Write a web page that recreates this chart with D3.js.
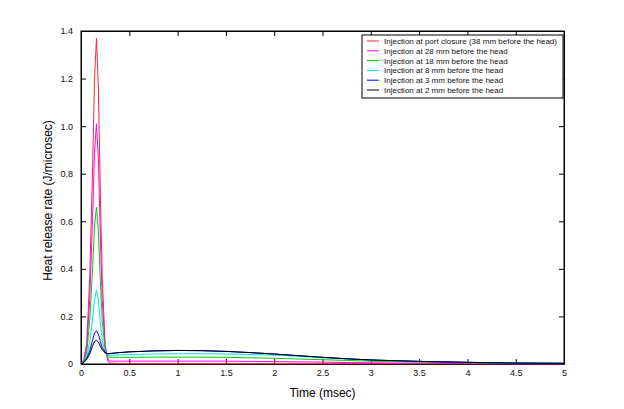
<!DOCTYPE html>
<html><head><meta charset="utf-8">
<script src="https://cdn.jsdelivr.net/npm/d3@7"></script>
<style>body{margin:0;background:#fff}svg{display:block}</style>
</head><body>
<script>
const time = [0, 0.03, 0.06, 0.09, 0.12, 0.14, 0.16, 0.18, 0.2, 0.22, 0.25, 0.28, 0.3, 0.4, 0.5, 0.75, 1, 1.25, 1.5, 1.75, 2, 2.25, 2.5, 2.75, 3, 3.5, 4, 4.5, 5];
const red     = [0, 0.02, 0.09, 0.36, 0.82, 1.2, 1.37, 1.16, 0.72, 0.36, 0.08, 0.01, 0.004, 0.002, 0.001, 0.001, 0.001, 0.001, 0.001, 0.001, 0.001, 0.001, 0.001, 0.001, 0.001, 0.001, 0.001, 0.001, 0.001];
const magenta = [0, 0.015, 0.07, 0.27, 0.61, 0.89, 1.01, 0.86, 0.54, 0.27, 0.07, 0.018, 0.012, 0.012, 0.012, 0.012, 0.012, 0.012, 0.012, 0.011, 0.01, 0.009, 0.008, 0.006, 0.005, 0.003, 0.002, 0.001, 0.001];
const green   = [0, 0.01, 0.05, 0.18, 0.4, 0.58, 0.66, 0.56, 0.35, 0.18, 0.06, 0.03, 0.028, 0.028, 0.028, 0.029, 0.029, 0.029, 0.028, 0.026, 0.024, 0.021, 0.018, 0.015, 0.012, 0.008, 0.005, 0.003, 0.002];
const cyan    = [0, 0.01, 0.03, 0.09, 0.19, 0.27, 0.31, 0.27, 0.17, 0.1, 0.05, 0.038, 0.036, 0.038, 0.04, 0.042, 0.043, 0.043, 0.042, 0.04, 0.037, 0.032, 0.026, 0.021, 0.016, 0.011, 0.007, 0.004, 0.003];
const blue    = [0, 0.008, 0.025, 0.055, 0.1, 0.13, 0.14, 0.125, 0.095, 0.07, 0.048, 0.043, 0.044, 0.048, 0.051, 0.055, 0.057, 0.056, 0.053, 0.048, 0.042, 0.035, 0.028, 0.022, 0.017, 0.011, 0.007, 0.004, 0.003];
const black   = [0, 0.006, 0.02, 0.042, 0.075, 0.095, 0.10, 0.092, 0.075, 0.06, 0.046, 0.043, 0.044, 0.048, 0.051, 0.055, 0.057, 0.056, 0.053, 0.048, 0.042, 0.035, 0.028, 0.022, 0.017, 0.011, 0.007, 0.004, 0.003];
const seriesNames = ["Injection at port closure (38 mm before the head)", "Injection at 28 mm before the head", "Injection at 18 mm before the head", "Injection at 8 mm before the head", "Injection at 3 mm before the head", "Injection at 2 mm before the head"];
const seriesColors = ["#ff2040", "#ff00ff", "#00cc00", "#00e5e5", "#0000ff", "#000000"];
const xTicks = [0, 0.5, 1, 1.5, 2, 2.5, 3, 3.5, 4, 4.5, 5];
const xTickLabels = ["0", "0.5", "1", "1.5", "2", "2.5", "3", "3.5", "4", "4.5", "5"];
const yTicks = [0, 0.2, 0.4, 0.6, 0.8, 1.0, 1.2, 1.4];
const yTickLabels = ["0", "0.2", "0.4", "0.6", "0.8", "1.0", "1.2", "1.4"];

const W = 624, H = 409;
const m = {l: 81, r: 60, t: 31, b: 45};
const svg = d3.select("body").append("svg").attr("width", W).attr("height", H);
const x = d3.scaleLinear().domain([0, 5]).range([m.l, W - m.r]);
const y = d3.scaleLinear().domain([0, 1.4]).range([H - m.b, m.t]);
const font = "Liberation Sans, Arial, sans-serif";

const allSeries = [red, magenta, green, cyan, blue, black];

const tl = 5;
svg.append("g").attr("transform", `translate(0,${y(0)})`)
  .call(d3.axisBottom(x).tickValues(xTicks).tickFormat((d, i) => xTickLabels[i]).tickSizeInner(-tl).tickSizeOuter(0).tickPadding(6));
svg.append("g").attr("transform", `translate(0,${y(1.4)})`)
  .call(d3.axisTop(x).tickValues(xTicks).tickFormat("").tickSizeInner(-tl).tickSizeOuter(0));
svg.append("g").attr("transform", `translate(${x(0)},0)`)
  .call(d3.axisLeft(y).tickValues(yTicks).tickFormat((d, i) => yTickLabels[i]).tickSizeInner(-tl).tickSizeOuter(0).tickPadding(8));
svg.append("g").attr("transform", `translate(${x(5)},0)`)
  .call(d3.axisRight(y).tickValues(yTicks).tickFormat("").tickSizeInner(-tl).tickSizeOuter(0));
svg.selectAll(".domain").attr("stroke", "#000");
svg.selectAll(".tick line").attr("stroke", "#000");
svg.selectAll(".tick text").attr("font-family", font).attr("font-size", 9).attr("fill", "#111");

svg.append("rect").attr("x", x(0)).attr("y", y(1.4)).attr("width", x(5) - x(0)).attr("height", y(0) - y(1.4))
  .attr("fill", "none").attr("stroke", "#000").attr("stroke-width", 1);

const line = d3.line().x((d, i) => x(time[i])).y(d => y(d));
allSeries.forEach((s, k) => {
  svg.append("path").datum(s).attr("d", line).attr("fill", "none")
    .attr("stroke", seriesColors[k]).attr("stroke-width", 1);
});

svg.append("text").attr("x", (x(0) + x(5)) / 2).attr("y", 397).attr("text-anchor", "middle")
  .attr("font-family", font).attr("font-size", 12).attr("fill", "#000").text("Time (msec)");
svg.append("text").attr("transform", `translate(52,${(y(0) + y(1.4)) / 2 + 3}) rotate(-90)`).attr("text-anchor", "middle")
  .attr("font-family", font).attr("font-size", 12).attr("fill", "#000").text("Heat release rate (J/microsec)");

const lg = svg.append("g");
const lx = 362, ly = 35, rowH = 9.8;
lg.append("rect").attr("x", lx).attr("y", ly).attr("width", 201).attr("height", 63)
  .attr("fill", "#fff").attr("stroke", "#000");
seriesNames.forEach((n, k) => {
  const yy = ly + 6 + k * rowH;
  lg.append("line").attr("x1", lx + 5).attr("x2", lx + 17).attr("y1", yy).attr("y2", yy)
    .attr("stroke", seriesColors[k]);
  lg.append("text").attr("x", lx + 22).attr("y", yy + 3).attr("font-family", font).attr("font-size", 8)
    .attr("fill", "#111").text(n);
});
</script>
</body></html>
